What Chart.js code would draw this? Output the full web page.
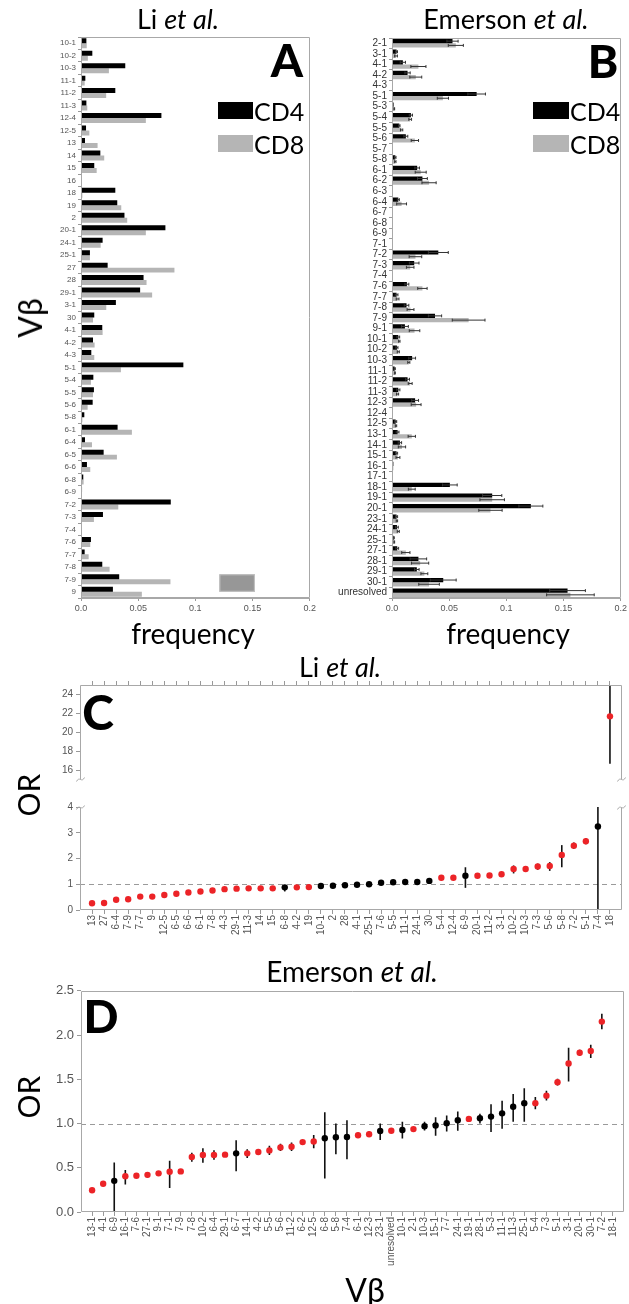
<!DOCTYPE html>
<html>
<head>
<meta charset="utf-8">
<script src="https://cdn.jsdelivr.net/npm/chart.js@4.4.0/dist/chart.umd.min.js"></script>
<style>
  body { margin: 0; background: #fff; }
  #page { position: relative; width: 629px; height: 1304px; overflow: hidden; font-family: Lato, "Open Sans", sans-serif; }
  canvas { position: absolute; }
  .t { position: absolute; white-space: nowrap; line-height: 1; transform: translate(-50%, -50%); color: #000; }
  .l { position: absolute; white-space: nowrap; line-height: 1; transform: translate(0, -50%); color: #000; }
  .rot { transform: translate(-50%, -50%) rotate(-90deg); }
  .big { font-weight: 900; }
  .sw { position: absolute; }
</style>
</head>
<body>
<div id="page">
  <canvas id="panelA" width="278" height="598" style="left:40px;top:30px"></canvas>
  <canvas id="panelB" width="299" height="598" style="left:330px;top:30px"></canvas>
  <canvas id="panelCtop" width="599" height="113" style="left:30px;top:676px"></canvas>
  <canvas id="panelCbot" width="599" height="170" style="left:30px;top:798px"></canvas>
  <canvas id="panelD" width="599" height="300" style="left:30px;top:980px"></canvas>

  <div class="t" style="left:178px;top:18px;font-size:27px">Li <i>et al.</i></div>
  <div class="t" style="left:506px;top:18px;font-size:27px">Emerson <i>et al.</i></div>
  <div class="t big" style="left:287px;top:60px;font-size:46px">A</div>
  <div class="t big" style="left:603px;top:61px;font-size:46px">B</div>

  <div class="sw" style="left:218px;top:102px;width:35px;height:17px;background:#000"></div>
  <div class="l" style="left:254px;top:111px;font-size:25px">CD4</div>
  <div class="sw" style="left:218px;top:135px;width:35px;height:17px;background:#b5b5b5"></div>
  <div class="l" style="left:254px;top:144px;font-size:25px">CD8</div>
  <div class="sw" style="left:533px;top:102px;width:36px;height:17px;background:#000"></div>
  <div class="l" style="left:570px;top:111px;font-size:25px">CD4</div>
  <div class="sw" style="left:533px;top:135px;width:36px;height:17px;background:#b5b5b5"></div>
  <div class="l" style="left:570px;top:144px;font-size:25px">CD8</div>

  <div class="t rot" style="left:30px;top:318px;font-size:32px">Vβ</div>
  <div class="t" style="left:193px;top:633px;font-size:28px">frequency</div>
  <div class="t" style="left:508px;top:633px;font-size:28px">frequency</div>

  <div class="t" style="left:340px;top:666px;font-size:27px">Li <i>et al.</i></div>
  <div class="t big" style="left:98px;top:712px;font-size:48px">C</div>
  <div class="t rot" style="left:28px;top:795px;font-size:30px">OR</div>

  <div class="t" style="left:352px;top:971px;font-size:28px">Emerson <i>et al.</i></div>
  <div class="t big" style="left:101px;top:1016px;font-size:46px">D</div>
  <div class="t rot" style="left:28px;top:1097px;font-size:30px">OR</div>
  <div class="t" style="left:365px;top:1290px;font-size:32px">Vβ</div>
</div>

<script>
// ---- Vβ usage frequencies, Li et al. (panel A)
const liLabels = ['10-1','10-2','10-3','11-1','11-2','11-3','12-4','12-5','13','14','15','16','18','19','2','20-1','24-1','25-1','27','28','29-1','3-1','30','4-1','4-2','4-3','5-1','5-4','5-5','5-6','5-8','6-1','6-4','6-5','6-6','6-8','6-9','7-2','7-3','7-4','7-6','7-7','7-8','7-9','9'];
const liCD4 = [0.0047,0.0099,0.0387,0.0038,0.030,0.0047,0.0703,0.0044,0.0035,0.0169,0.0116,0,0.030,0.0317,0.038,0.0738,0.0189,0.0078,0.0233,0.0547,0.0517,0.0305,0.0116,0.0186,0.0105,0.009,0.0895,0.0108,0.0113,0.0102,0.0029,0.032,0.0035,0.0198,0.0052,0.002,0.0009,0.0785,0.0192,0,0.0087,0.0032,0.0186,0.0334,0.0279];
const liCD8 = [0.005,0.006,0.0244,0.0032,0.022,0.0055,0.0567,0.0073,0.0145,0.0203,0.0137,0,0.0012,0.0352,0.0404,0.0567,0.0172,0.0078,0.0817,0.0573,0.0622,0.0221,0.0105,0.0189,0.0119,0.0116,0.0349,0.0087,0.0105,0.0058,0.0012,0.0445,0.0096,0.0314,0.0081,0.0023,0.0003,0.0326,0.0113,0,0.0081,0.0067,0.025,0.0782,0.0532];

// ---- Vβ usage frequencies with SD, Emerson et al. (panel B)
const emLabels = ['2-1','3-1','4-1','4-2','4-3','5-1','5-3','5-4','5-5','5-6','5-7','5-8','6-1','6-2','6-3','6-4','6-7','6-8','6-9','7-1','7-2','7-3','7-4','7-6','7-7','7-8','7-9','9-1','10-1','10-2','10-3','11-1','11-2','11-3','12-3','12-4','12-5','13-1','14-1','15-1','16-1','17-1','18-1','19-1','20-1','23-1','24-1','25-1','27-1','28-1','29-1','30-1','unresolved'];
const emCD4 = [0.0529,0.004,0.0095,0.0136,0,0.074,0.0014,0.0165,0.0064,0.0121,0.0003,0.0029,0.022,0.0266,0,0.0055,0.0005,0.0003,0.0003,0.0003,0.0405,0.0194,0.0005,0.013,0.004,0.0127,0.0376,0.0113,0.0055,0.0043,0.0176,0.0023,0.0136,0.0055,0.0202,0.0003,0.0032,0.0049,0.0069,0.004,0.0012,0,0.0506,0.0876,0.1214,0.004,0.0043,0.0014,0.0046,0.0231,0.0217,0.0448,0.1535];
const emCD4Err = [0.0049,0.0008,0.0023,0.0023,0,0.0077,0,0.0014,0.0006,0.0017,0,0.0006,0.002,0.0043,0,0.0009,0,0,0,0,0.0087,0.0042,0,0.0017,0.0012,0.002,0.0058,0.003,0.0012,0.0009,0.003,0.0006,0.0017,0.0014,0.003,0,0.0009,0.0012,0.0015,0.0009,0,0,0.0064,0.0084,0.0105,0.0009,0.0012,0.0006,0.0012,0.0072,0.002,0.0113,0.0156];
const emCD8 = [0.0558,0.0035,0.0231,0.0208,0,0.0445,0.002,0.0159,0.0084,0.02,0.0003,0.0029,0.0251,0.0324,0,0.0084,0.0003,0.0003,0.0002,0.0002,0.0205,0.0159,0.0003,0.0266,0.0049,0.0162,0.067,0.0197,0.0064,0.0055,0.0147,0.0026,0.0159,0.0049,0.0211,0,0.0035,0.0173,0.0087,0.0052,0.0012,0,0.0173,0.0876,0.0861,0.0043,0.0055,0.002,0.0121,0.0246,0.0283,0.0324,0.156];
const emCD8Err = [0.0066,0.0012,0.0066,0.0052,0,0.0049,0.0003,0.0012,0.001,0.0032,0,0.0006,0.0048,0.0062,0,0.0043,0,0,0,0,0.0055,0.0033,0,0.0041,0.0012,0.003,0.0143,0.0046,0.0006,0.0009,0.0009,0.0003,0.0017,0.0009,0.0043,0,0.0006,0.0032,0.0032,0.0017,0,0,0.003,0.0107,0.0102,0.0006,0.0009,0.0003,0.0036,0.0075,0.003,0.009,0.0208];

const freqTicks = [0, 0.05, 0.1, 0.15, 0.2];
const freqTickText = ['0.0', '0.05', '0.1', '0.15', '0.2'];

// ---- odds ratios, Li et al. (panel C); 1 = significant (red)
const liOrLabels = ['13','27','6-4','7-9','7-7','9','12-5','6-5','6-6','6-1','7-8','4-3','29-1','11-3','14','15','6-8','4-2','19','10-1','2','28','4-1','25-1','7-6','5-5','11-1','24-1','30','5-4','12-4','6-9','20-1','11-2','3-1','10-2','10-3','7-3','5-6','5-8','7-2','5-1','7-4','18'];
const liOR = [0.26,0.27,0.40,0.42,0.52,0.52,0.58,0.63,0.68,0.72,0.76,0.81,0.83,0.84,0.84,0.84,0.88,0.88,0.89,0.93,0.94,0.96,0.98,1.0,1.06,1.08,1.09,1.09,1.13,1.25,1.25,1.33,1.33,1.34,1.39,1.59,1.59,1.69,1.71,2.14,2.5,2.67,3.24,21.7];
const liLo = [0.23,0.24,0.36,0.38,0.48,0.48,0.54,0.59,0.64,0.68,0.72,0.77,0.79,0.76,0.80,0.80,0.72,0.84,0.85,0.84,0.91,0.93,0.95,0.93,1.01,1.03,0.98,1.05,1.05,1.15,1.21,0.86,1.29,1.30,1.34,1.42,1.53,1.56,1.52,1.66,2.38,2.55,0,16.7];
const liHi = [0.29,0.30,0.44,0.46,0.56,0.56,0.62,0.67,0.72,0.76,0.80,0.85,0.87,0.92,0.88,0.88,0.97,0.92,0.93,1.02,0.97,0.99,1.01,1.07,1.11,1.13,1.20,1.13,1.20,1.35,1.29,1.66,1.37,1.38,1.44,1.73,1.65,1.80,1.86,2.52,2.62,2.79,4.6,27];
const liSig = [1,1,1,1,1,1,1,1,1,1,1,1,1,1,1,1,0,1,1,0,0,0,0,0,0,0,0,0,0,1,1,0,1,1,1,1,1,1,1,1,1,1,0,1];
const liUpperTicks = [16, 18, 20, 22, 24];
const liLowerTicks = [0, 1, 2, 3, 4];

// ---- odds ratios, Emerson et al. (panel D)
const emOrLabels = ['13-1','4-1','6-9','16-1','7-6','27-1','9-1','7-1','7-9','7-8','10-2','6-4','29-1','6-7','14-1','4-2','5-5','5-6','11-2','6-2','12-5','6-8','5-8','7-4','6-1','12-3','23-1','unresolved','10-1','2-1','10-3','15-1','7-7','24-1','19-1','28-1','5-3','11-1','11-3','25-1','5-4','7-3','5-1','3-1','20-1','30-1','7-2','18-1'];
const emOR = [0.245,0.319,0.352,0.404,0.41,0.42,0.437,0.455,0.459,0.622,0.644,0.644,0.648,0.663,0.663,0.678,0.696,0.73,0.737,0.79,0.796,0.833,0.844,0.848,0.867,0.878,0.915,0.919,0.926,0.937,0.97,0.978,1.004,1.037,1.052,1.059,1.078,1.115,1.189,1.23,1.23,1.315,1.467,1.678,1.8,1.819,2.152,null];
const emLo = [0.23,0.30,0.0,0.311,0.395,0.39,0.42,0.27,0.445,0.567,0.556,0.59,0.635,0.46,0.61,0.66,0.645,0.69,0.69,0.775,0.72,0.378,0.652,0.596,0.84,0.85,0.815,0.905,0.83,0.92,0.92,0.863,0.91,0.919,1.035,1.0,0.904,0.941,1.019,1.019,1.16,1.26,1.43,1.474,1.765,1.74,2.065,null];
const emHi = [0.26,0.335,0.56,0.474,0.425,0.45,0.455,0.58,0.473,0.67,0.72,0.698,0.66,0.81,0.71,0.695,0.75,0.77,0.785,0.805,0.87,1.126,1.0,1.037,0.895,0.91,1.0,0.933,1.02,0.955,1.02,1.07,1.09,1.137,1.07,1.11,1.219,1.256,1.333,1.4,1.30,1.37,1.505,1.856,1.835,1.89,2.24,null];
const emSig = [1,1,0,1,1,1,1,1,1,1,1,1,1,0,1,1,1,1,1,1,1,0,0,0,1,1,0,1,0,1,0,0,0,0,1,0,0,0,0,0,1,1,1,1,1,1,1,1];
const emTicks = [0, 0.5, 1, 1.5, 2, 2.5];

const RED = '#ec2327';
const GREY = '#b5b5b5';

Chart.defaults.font.family = '"Liberation Sans", Arial, sans-serif';
Chart.defaults.animation = false;
Chart.defaults.plugins.legend.display = false;
Chart.defaults.plugins.tooltip.enabled = false;

// box around the plot area, sides picked per chart
const frame = {
  id: 'frame',
  afterDraw(chart, args, opts) {
    const { ctx, chartArea: a } = chart;
    const sides = opts.sides || 'tlrb';
    const L = Math.round(a.left) + 0.5, R = Math.round(a.right) - 0.5;
    const T = Math.round(a.top) + 0.5, B = Math.round(a.bottom) - 0.5;
    ctx.save();
    ctx.strokeStyle = opts.color || '#a8a8a8';
    ctx.lineWidth = 1;
    ctx.beginPath();
    if (sides.includes('t')) { ctx.moveTo(L, T); ctx.lineTo(R, T); }
    if (sides.includes('b')) { ctx.moveTo(L, B); ctx.lineTo(R, B); }
    if (sides.includes('l')) { ctx.moveTo(L, T); ctx.lineTo(L, B); }
    if (sides.includes('r')) { ctx.moveTo(R, T); ctx.lineTo(R, B); }
    ctx.stroke();
    // little squiggles where the y axis is broken
    if (opts.breakAt) {
      const y = opts.breakAt === 'top' ? T : B;
      [L, R].forEach(x => {
        ctx.beginPath();
        ctx.moveTo(x - 4, y + 2);
        ctx.bezierCurveTo(x - 1, y - 4, x + 1, y + 4, x + 4, y - 2);
        ctx.stroke();
      });
    }
    ctx.restore();
  }
};

// dashed reference line at OR = 1
const refLine = {
  id: 'refLine',
  beforeDatasetsDraw(chart, args, opts) {
    if (opts.value === undefined) return;
    const { ctx, chartArea: a, scales: { y } } = chart;
    if (opts.value < y.min || opts.value > y.max) return;
    const py = Math.round(y.getPixelForValue(opts.value)) + 0.5;
    ctx.save();
    ctx.strokeStyle = '#9a9a9a';
    ctx.setLineDash([5, 4]);
    ctx.beginPath(); ctx.moveTo(a.left, py); ctx.lineTo(a.right, py); ctx.stroke();
    ctx.restore();
  }
};

// vertical confidence intervals behind the OR dots
const whiskers = {
  id: 'whiskers',
  beforeDatasetsDraw(chart) {
    const ds = chart.data.datasets[0];
    if (!ds.lo) return;
    const { ctx, chartArea: a, scales: { x, y } } = chart;
    ctx.save();
    ctx.beginPath(); ctx.rect(a.left, a.top, a.right - a.left, a.bottom - a.top); ctx.clip();
    ctx.strokeStyle = '#111';
    ctx.lineWidth = 1.6;
    ds.lo.forEach((lo, i) => {
      if (lo === null) return;
      const px = x.getPixelForValue(i);
      ctx.beginPath();
      ctx.moveTo(px, y.getPixelForValue(lo));
      ctx.lineTo(px, y.getPixelForValue(ds.hi[i]));
      ctx.stroke();
    });
    ctx.restore();
  }
};

// horizontal SD bars on the frequency bars
const barErrors = {
  id: 'barErrors',
  afterDatasetsDraw(chart) {
    const { ctx, scales: { x } } = chart;
    chart.data.datasets.forEach((ds, di) => {
      if (!ds.errors) return;
      const meta = chart.getDatasetMeta(di);
      ctx.save();
      ctx.strokeStyle = '#333';
      ctx.lineWidth = 1;
      meta.data.forEach((bar, i) => {
        const e = ds.errors[i];
        if (!e) return;
        const v = ds.data[i];
        const x0 = x.getPixelForValue(v - e), x1 = x.getPixelForValue(v + e);
        const h = bar.height * 0.35;
        ctx.beginPath();
        ctx.moveTo(x0, bar.y); ctx.lineTo(x1, bar.y);
        ctx.moveTo(x0, bar.y - h); ctx.lineTo(x0, bar.y + h);
        ctx.moveTo(x1, bar.y - h); ctx.lineTo(x1, bar.y + h);
        ctx.stroke();
      });
      ctx.restore();
    });
  }
};

// grey block sitting over the last rows of panel A
const shade = {
  id: 'shade',
  afterDatasetsDraw(chart, args, opts) {
    if (!opts.from) return;
    const { ctx, scales: { x, y } } = chart;
    const band = y.getPixelForValue(1) - y.getPixelForValue(0);
    const top = y.getPixelForValue(y.getLabels().indexOf(opts.rows[0])) - band * 0.4;
    const bot = y.getPixelForValue(y.getLabels().indexOf(opts.rows[1]));
    const x0 = x.getPixelForValue(opts.from), x1 = x.getPixelForValue(opts.to);
    ctx.save();
    ctx.fillStyle = '#979797';
    ctx.fillRect(x0, top, x1 - x0, bot - top);
    ctx.strokeStyle = '#c4c4c4';
    ctx.strokeRect(x0 + 0.5, top + 0.5, x1 - x0 - 1, bot - top - 1);
    ctx.restore();
  }
};

Chart.register(frame, refLine, whiskers, barErrors, shade);

function fixSize(size) {
  return s => { if (s.isHorizontal()) s.height = size; else s.width = size; };
}

function freqChart(id, labels, cd4, cd8, err4, err8, yFont, yColor, yWidth, extra) {
  const ds4 = { data: cd4, backgroundColor: '#000', barPercentage: 1, categoryPercentage: 0.8 };
  const ds8 = { data: cd8, backgroundColor: GREY, barPercentage: 1, categoryPercentage: 0.8 };
  if (err4) { ds4.errors = err4; ds8.errors = err8; }
  return new Chart(document.getElementById(id), {
    type: 'bar',
    data: { labels: labels, datasets: [ds4, ds8] },
    options: {
      responsive: false,
      indexAxis: 'y',
      layout: { padding: { top: 7, right: 7, left: 0, bottom: 0 } },
      scales: {
        x: {
          min: 0, max: 0.2,
          afterBuildTicks: s => { s.ticks = freqTicks.map(v => ({ value: v })); },
          afterFit: fixSize(30),
          grid: { drawOnChartArea: false, tickLength: 3, color: '#999' },
          border: { color: '#a8a8a8' },
          ticks: { font: { size: 9 }, color: '#555', padding: 2, callback: (v, i) => freqTickText[i] }
        },
        y: {
          afterFit: fixSize(yWidth),
          grid: { drawOnChartArea: false, tickLength: 3, color: '#999' },
          border: { color: '#a8a8a8' },
          ticks: { font: { size: yFont }, color: yColor, padding: 2, autoSkip: false }
        }
      },
      plugins: extra || {}
    }
  });
}

freqChart('panelA', liLabels, liCD4, liCD8, null, null, 8, '#555', 41,
  { shade: { from: 0.121, to: 0.152, rows: ['7-9', '9'] } });
freqChart('panelB', emLabels, emCD4, emCD8, emCD4Err, emCD8Err, 10, '#333', 62);

function orChart(id, cfg) {
  const n = cfg.labels.length;
  const pts = cfg.values.map((v, i) => ({ x: i, y: cfg.keep(v) ? v : null }));
  return new Chart(document.getElementById(id), {
    type: 'scatter',
    data: {
      datasets: [{
        data: pts,
        lo: cfg.lo, hi: cfg.hi,
        pointRadius: 3.2,
        pointBorderWidth: 0,
        pointBackgroundColor: cfg.sig.map(s => s ? RED : '#000')
      }]
    },
    options: {
      responsive: false,
      clip: false,
      layout: { padding: cfg.padding },
      scales: {
        x: {
          type: 'linear', position: cfg.xPos || 'bottom',
          min: -1, max: n,
          afterBuildTicks: s => { s.ticks = cfg.labels.map((_, i) => ({ value: i })); },
          afterFit: fixSize(cfg.xHeight),
          grid: { drawOnChartArea: false, tickLength: 4, color: '#999' },
          border: { display: false },
          ticks: cfg.showLabels
            ? { font: { size: 10 }, color: '#555', padding: 1, autoSkip: false, minRotation: 90, maxRotation: 90, callback: v => cfg.labels[v] }
            : { callback: () => '' }
        },
        y: {
          min: cfg.min, max: cfg.max,
          afterBuildTicks: s => { s.ticks = cfg.ticks.map(v => ({ value: v })); },
          afterFit: fixSize(cfg.yWidth),
          grid: { drawOnChartArea: false, tickLength: 4, color: '#999' },
          border: { display: false },
          ticks: { font: { size: cfg.yFont }, color: '#555', padding: 3, callback: cfg.fmt || (v => v) }
        }
      },
      plugins: { frame: cfg.frame, refLine: { value: 1 } }
    }
  });
}

orChart('panelCtop', {
  labels: liOrLabels, values: liOR, lo: liLo, hi: liHi, sig: liSig,
  keep: v => v > 15, min: 15, max: 25, ticks: liUpperTicks,
  xPos: 'top', xHeight: 6, showLabels: false, yWidth: 50, yFont: 10,
  padding: { top: 0, right: 7, left: 0, bottom: 0 },
  frame: { sides: 'tlr', breakAt: 'bottom' }
});
orChart('panelCbot', {
  labels: liOrLabels, values: liOR, lo: liLo, hi: liHi, sig: liSig,
  keep: v => v <= 4, min: 0, max: 4, ticks: liLowerTicks,
  xHeight: 58, showLabels: true, yWidth: 50, yFont: 10,
  padding: { top: 5, right: 7, left: 0, bottom: 0 },
  frame: { sides: 'lrb', breakAt: 'top' }
});
orChart('panelD', {
  labels: emOrLabels, values: emOR, lo: emLo, hi: emHi, sig: emSig,
  keep: v => v !== null, min: 0, max: 2.5, ticks: emTicks, fmt: v => v.toFixed(1),
  xHeight: 68, showLabels: true, yWidth: 51, yFont: 13,
  padding: { top: 7, right: 5, left: 0, bottom: 0 },
  frame: { sides: 'tlrb' }
});
</script>
</body>
</html>
